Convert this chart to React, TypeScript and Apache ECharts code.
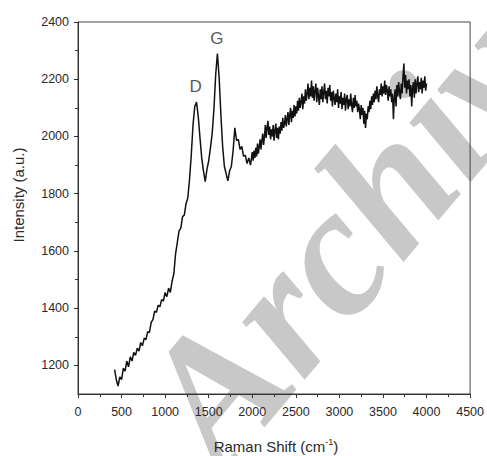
import React, { useEffect, useRef } from "react";
import * as echarts from "echarts";

// Rising part and D/G bands (step 20 cm-1)
const shiftLow = [
  420, 440, 460, 480, 500, 520, 540, 560, 580, 600,
  620, 640, 660, 680, 700, 720, 740, 760, 780, 800,
  820, 840, 860, 880, 900, 920, 940, 960, 980, 1000,
  1020, 1040, 1060, 1080, 1100, 1120, 1140, 1160, 1180, 1200,
  1220, 1240, 1260, 1280, 1300, 1320, 1340, 1360, 1380, 1400,
  1420, 1440, 1460, 1480, 1500, 1520, 1540, 1560, 1580, 1600,
  1620, 1640, 1660, 1680, 1700, 1720, 1740, 1760, 1780, 1800,
  1820, 1840, 1860, 1880, 1900, 1920, 1940, 1960, 1980,
];
const intensityLow = [
  1185, 1150, 1128, 1160, 1150, 1190, 1180, 1215, 1195, 1230,
  1215, 1245, 1235, 1260, 1250, 1280, 1268, 1295, 1290, 1318,
  1315, 1350, 1360, 1390, 1385, 1410, 1405, 1430, 1425, 1455,
  1440, 1470, 1455, 1495, 1520, 1590, 1630, 1670, 1680, 1720,
  1725, 1765, 1785, 1850, 1935, 2040, 2105, 2120, 2070, 1995,
  1925, 1880, 1842, 1885, 1915, 1960, 2010, 2095, 2215, 2290,
  2205, 2075, 1965, 1895, 1870, 1845, 1880, 1895, 1950, 2030,
  1985, 1990, 1955, 1965, 1930, 1935, 1905, 1925, 1900,
];

// Broad 2D region and plateau (step 10 cm-1)
const shiftHigh = [
  2000, 2010, 2020, 2030, 2040, 2050, 2060, 2070, 2080, 2090,
  2100, 2110, 2120, 2130, 2140, 2150, 2160, 2170, 2180, 2190,
  2200, 2210, 2220, 2230, 2240, 2250, 2260, 2270, 2280, 2290,
  2300, 2310, 2320, 2330, 2340, 2350, 2360, 2370, 2380, 2390,
  2400, 2410, 2420, 2430, 2440, 2450, 2460, 2470, 2480, 2490,
  2500, 2510, 2520, 2530, 2540, 2550, 2560, 2570, 2580, 2590,
  2600, 2610, 2620, 2630, 2640, 2650, 2660, 2670, 2680, 2690,
  2700, 2710, 2720, 2730, 2740, 2750, 2760, 2770, 2780, 2790,
  2800, 2810, 2820, 2830, 2840, 2850, 2860, 2870, 2880, 2890,
  2900, 2910, 2920, 2930, 2940, 2950, 2960, 2970, 2980, 2990,
  3000, 3010, 3020, 3030, 3040, 3050, 3060, 3070, 3080, 3090,
  3100, 3110, 3120, 3130, 3140, 3150, 3160, 3170, 3180, 3190,
  3200, 3210, 3220, 3230, 3240, 3250, 3260, 3270, 3280, 3290,
  3300, 3310, 3320, 3330, 3340, 3350, 3360, 3370, 3380, 3390,
  3400, 3410, 3420, 3430, 3440, 3450, 3460, 3470, 3480, 3490,
  3500, 3510, 3520, 3530, 3540, 3550, 3560, 3570, 3580, 3590,
  3600, 3610, 3620, 3630, 3640, 3650, 3660, 3670, 3680, 3690,
  3700, 3710, 3720, 3730, 3740, 3750, 3760, 3770, 3780, 3790,
  3800, 3810, 3820, 3830, 3840, 3850, 3860, 3870, 3880, 3890,
  3900, 3910, 3920, 3930, 3940, 3950, 3960, 3970, 3980, 3990,
  4000,
];
const intensityHigh = [
  1945, 1915, 1950, 1925, 1960, 1930, 1975, 1940, 1965, 1990,
  1955, 1985, 2010, 1970, 2000, 2040, 1995, 2030, 2055, 2005,
  2035, 1990, 2025, 2000, 2040, 1985, 2020, 2045, 1995, 2030,
  1990, 2035, 2010, 2050, 2020, 2065, 2030, 2045, 2075, 2035,
  2060, 2085, 2040, 2075, 2100, 2050, 2090, 2065, 2110, 2070,
  2105, 2080, 2125, 2090, 2135, 2100, 2120, 2150, 2095, 2140,
  2115, 2165, 2125, 2150, 2185, 2130, 2170, 2140, 2195, 2135,
  2175, 2125, 2160, 2185, 2120, 2170, 2140, 2110, 2165, 2130,
  2175, 2120, 2155, 2185, 2130, 2160, 2115, 2170, 2140, 2180,
  2125, 2155, 2105, 2160, 2135, 2110, 2150, 2120, 2165, 2100,
  2140, 2115, 2155, 2095, 2135, 2110, 2150, 2090, 2130, 2145,
  2095, 2130, 2105, 2150, 2110, 2085, 2135, 2100, 2145, 2105,
  2125, 2085, 2115, 2095, 2060, 2110, 2075, 2100, 2045, 2090,
  2030, 2080, 2060, 2105, 2085, 2125, 2095, 2140, 2110, 2150,
  2120, 2160, 2130, 2175, 2140, 2120, 2165, 2145, 2185, 2140,
  2175, 2150, 2195, 2145, 2180, 2160, 2125, 2175, 2140, 2165,
  2120, 2150, 2060, 2135, 2165, 2105, 2180, 2140, 2190, 2155,
  2130, 2185, 2150, 2210, 2255, 2170, 2215, 2150, 2195, 2165,
  2200, 2140, 2180, 2105, 2170, 2190, 2135, 2200, 2150, 2185,
  2210, 2155, 2190, 2165, 2205, 2150, 2195, 2170, 2210, 2160,
  2185,
];

const xTicks = [0, 500, 1000, 1500, 2000, 2500, 3000, 3500, 4000, 4500];
const yMajorTicks = [1200, 1400, 1600, 1800, 2000, 2200, 2400];
const yMinorTicks = [1300, 1500, 1700, 1900, 2100, 2300];

const peakLabels = ["D", "G"];
const peakShift = [1350, 1595];
const peakLabelIntensity = [2176, 2344];

const TEXT = "#2a2a2a";
const SANS = "'Liberation Sans', Arial, sans-serif";

export default function App() {
  const ref = useRef<HTMLDivElement>(null);

  useEffect(() => {
    if (!ref.current) return;
    const chart = echarts.init(ref.current, undefined, { renderer: "svg" });
    const axisLineStyle = { color: "#333", width: 1 };
    const shifts = shiftLow.concat(shiftHigh);
    const values = intensityLow.concat(intensityHigh);
    const option = {
      animation: false,
      backgroundColor: "#ffffff",
      grid: {
        left: 78,
        right: 15,
        top: 22,
        bottom: 62,
        show: true,
        borderColor: "#444",
        borderWidth: 1,
        containLabel: false,
      },
      xAxis: {
        type: "value",
        min: xTicks[0],
        max: xTicks[xTicks.length - 1],
        interval: 500,
        axisLine: { show: true, lineStyle: axisLineStyle },
        axisTick: { show: true, inside: false, length: 4, lineStyle: axisLineStyle },
        minorTick: { show: true, splitNumber: 2, length: 3, lineStyle: axisLineStyle },
        splitLine: { show: false },
        minorSplitLine: { show: false },
        axisLabel: {
          color: TEXT,
          fontSize: 12.5,
          fontFamily: SANS,
          margin: 11,
          formatter: (v: number) => String(v),
        },
      },
      yAxis: [
        {
          type: "value",
          min: 1100,
          max: 2400,
          axisLine: { show: true, lineStyle: axisLineStyle },
          axisTick: {
            show: true,
            inside: false,
            length: 4,
            customValues: yMajorTicks,
            lineStyle: axisLineStyle,
          },
          splitLine: { show: false },
          axisLabel: {
            color: TEXT,
            fontSize: 12.5,
            fontFamily: SANS,
            margin: 9,
            customValues: yMajorTicks,
            formatter: (v: number) => String(v),
          },
        },
        {
          type: "value",
          position: "left",
          min: 1100,
          max: 2400,
          axisLine: { show: false },
          axisTick: {
            show: true,
            inside: false,
            length: 3,
            customValues: yMinorTicks,
            lineStyle: axisLineStyle,
          },
          splitLine: { show: false },
          axisLabel: { show: false, customValues: yMinorTicks },
        },
      ],
      graphic: [
        {
          type: "text",
          x: 175,
          y: 437,
          rotation: (50 * Math.PI) / 180,
          z: -10,
          silent: true,
          style: {
            text: "Archive",
            fill: "#c8c8c8",
            font: "italic bold 185px 'Liberation Serif', 'Times New Roman', serif",
            textAlign: "left",
            textVerticalAlign: "middle",
          },
        },
        {
          type: "text",
          x: 18,
          y: 195,
          rotation: Math.PI / 2,
          style: {
            text: "Intensity (a.u.)",
            fill: TEXT,
            font: `15px ${SANS}`,
            textAlign: "center",
            textVerticalAlign: "middle",
          },
        },
        {
          type: "text",
          x: 276,
          y: 446,
          style: {
            text: "Raman Shift (cm{sup|-1})",
            fill: TEXT,
            font: `15px ${SANS}`,
            textAlign: "center",
            textVerticalAlign: "middle",
            rich: {
              sup: { fontSize: 9, verticalAlign: "top", padding: [0, 0, 8, 0], fill: TEXT },
            },
          },
        },
      ],
      series: [
        {
          type: "line",
          data: shifts.map((x, i) => [x, values[i]]),
          showSymbol: false,
          symbol: "none",
          lineStyle: { color: "#111", width: 1.5 },
          z: 3,
        },
        {
          type: "scatter",
          data: peakLabels.map((name, i) => ({ value: [peakShift[i], peakLabelIntensity[i]], name })),
          symbolSize: 0,
          label: {
            show: true,
            position: "inside",
            formatter: (p: any) => p.name,
            color: TEXT,
            fontSize: 17,
            fontFamily: SANS,
          },
          z: 4,
        },
      ],
    };
    chart.setOption(option as any);
    return () => chart.dispose();
  }, []);

  return (
    <div
      ref={ref}
      style={{ position: "fixed", left: 0, top: 0, width: 487, height: 456, background: "#fff" }}
    />
  );
}
